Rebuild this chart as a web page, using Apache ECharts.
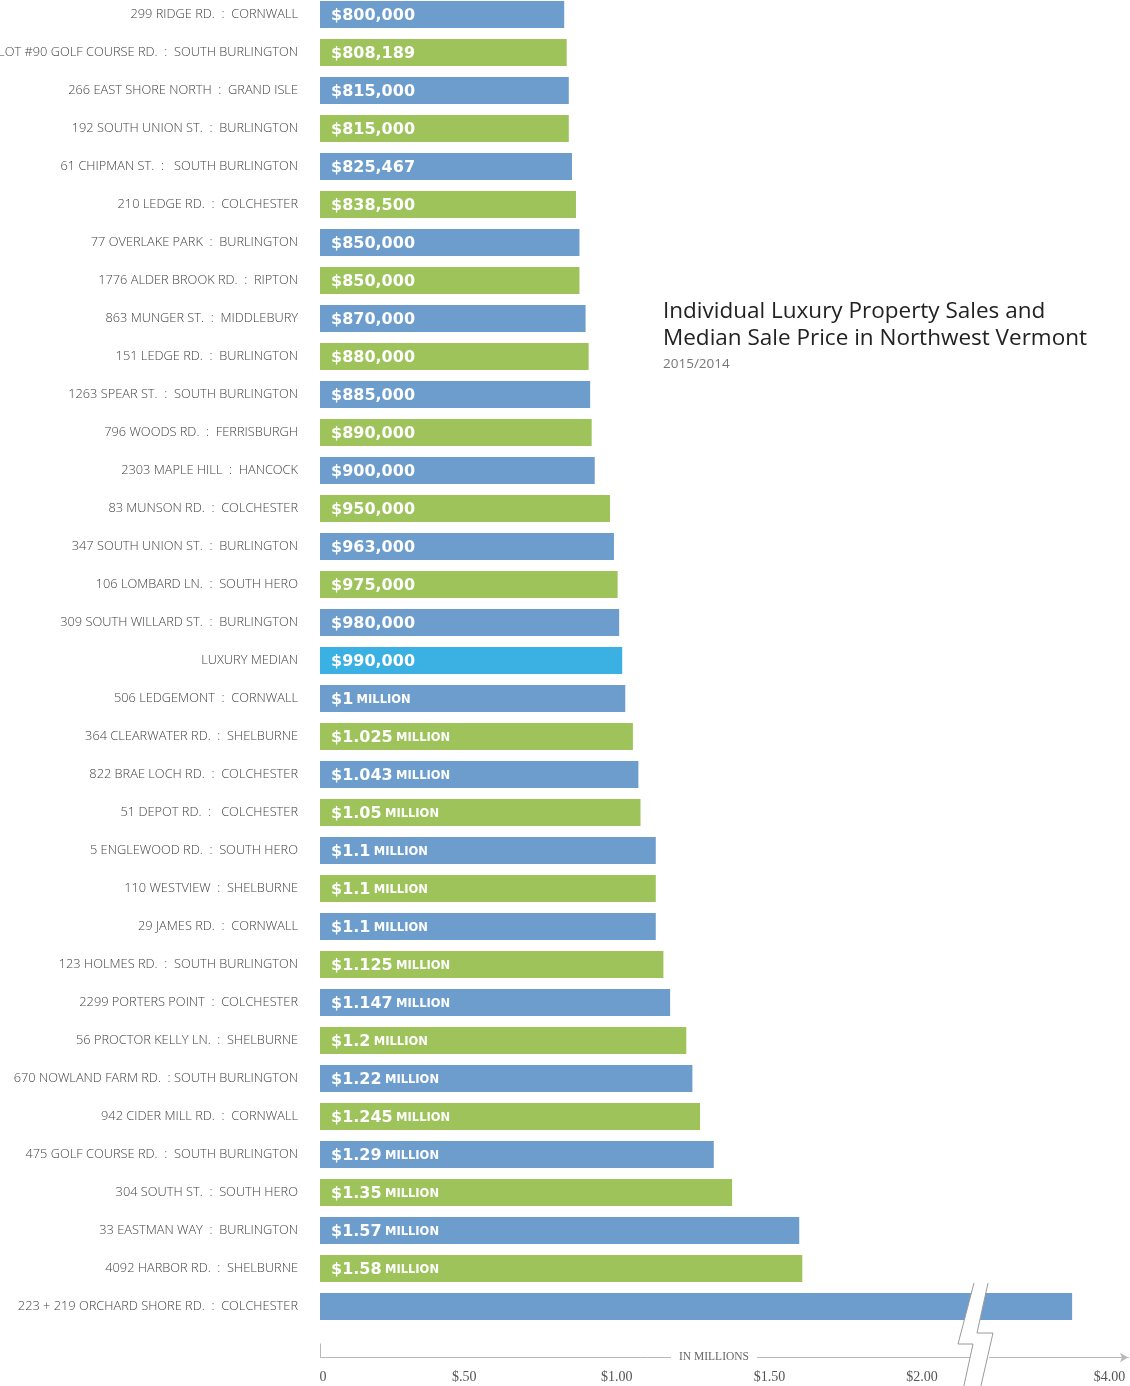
<!DOCTYPE html>
<html><head><meta charset="utf-8">
<script src="https://cdn.jsdelivr.net/npm/echarts@6/dist/echarts.min.js"></script>
<style>html,body{margin:0;padding:0;background:#fff}#c{width:1130px;height:1386px}</style>
</head><body><div id="c"></div>
<script>
const properties = [
  '299 RIDGE RD.  :  CORNWALL',
  'LOT #90 GOLF COURSE RD.  :  SOUTH BURLINGTON',
  '266 EAST SHORE NORTH  :  GRAND ISLE',
  '192 SOUTH UNION ST.  :  BURLINGTON',
  '61 CHIPMAN ST.  :   SOUTH BURLINGTON',
  '210 LEDGE RD.  :  COLCHESTER',
  '77 OVERLAKE PARK  :  BURLINGTON',
  '1776 ALDER BROOK RD.  :  RIPTON',
  '863 MUNGER ST.  :  MIDDLEBURY',
  '151 LEDGE RD.  :  BURLINGTON',
  '1263 SPEAR ST.  :  SOUTH BURLINGTON',
  '796 WOODS RD.  :  FERRISBURGH',
  '2303 MAPLE HILL  :  HANCOCK',
  '83 MUNSON RD.  :  COLCHESTER',
  '347 SOUTH UNION ST.  :  BURLINGTON',
  '106 LOMBARD LN.  :  SOUTH HERO',
  '309 SOUTH WILLARD ST.  :  BURLINGTON',
  'LUXURY MEDIAN',
  '506 LEDGEMONT  :  CORNWALL',
  '364 CLEARWATER RD.  :  SHELBURNE',
  '822 BRAE LOCH RD.  :  COLCHESTER',
  '51 DEPOT RD.  :   COLCHESTER',
  '5 ENGLEWOOD RD.  :  SOUTH HERO',
  '110 WESTVIEW  :  SHELBURNE',
  '29 JAMES RD.  :  CORNWALL',
  '123 HOLMES RD.  :  SOUTH BURLINGTON',
  '2299 PORTERS POINT  :  COLCHESTER',
  '56 PROCTOR KELLY LN.  :  SHELBURNE',
  '670 NOWLAND FARM RD.  : SOUTH BURLINGTON',
  '942 CIDER MILL RD.  :  CORNWALL',
  '475 GOLF COURSE RD.  :  SOUTH BURLINGTON',
  '304 SOUTH ST.  :  SOUTH HERO',
  '33 EASTMAN WAY  :  BURLINGTON',
  '4092 HARBOR RD.  :  SHELBURNE',
  '223 + 219 ORCHARD SHORE RD.  :  COLCHESTER'
];
// sale prices in millions of dollars
const prices = [
  0.8, 0.808189, 0.815, 0.815, 0.825467, 0.8385, 0.85, 0.85, 0.87, 0.88,
  0.885, 0.89, 0.9, 0.95, 0.963, 0.975, 0.98, 0.99, 1.0, 1.025,
  1.043, 1.05, 1.1, 1.1, 1.1, 1.125, 1.147, 1.2, 1.22, 1.245,
  1.29, 1.35, 1.57, 1.58, 3.85
];
const medianLabel = 'LUXURY MEDIAN';
const tickValues = [0, 0.5, 1, 1.5, 2, 4];
const tickLabels = ['0', '$.50', '$1.00', '$1.50', '$2.00', '$4.00'];
const axisBreak = { start: 2.144, end: 3.58 };
const unlabelledAbove = 2; // bars beyond the axis break carry no value label

const BLUE = '#6c9dcc', GREEN = '#9dc35a', MEDIAN = '#3bb0e3';

function priceText(v) {
  if (v >= unlabelledAbove) return '';
  if (v < 1) return '{a|$' + Math.round(v * 1e6).toLocaleString('en-US') + '}';
  return '{a|$' + (+v.toFixed(3)) + '} {b|MILLION}';
}

const chart = echarts.init(document.getElementById('c'), null, { renderer: 'canvas' });
chart.setOption({
  backgroundColor: '#fff',
  animation: false,
  title: {
    text: 'Individual Luxury Property Sales and\nMedian Sale Price in Northwest Vermont',
    subtext: '2015/2014',
    left: 658, top: 293,
    itemGap: 5,
    textStyle: { fontFamily: 'Open Sans', fontSize: 22.5, fontWeight: 'normal', color: '#222', lineHeight: 27 },
    subtextStyle: { fontFamily: 'Open Sans', fontSize: 13.5, color: '#777' }
  },
  grid: { left: 320, top: -4.5, width: 808, height: 1330, containLabel: false, outerBoundsMode: 'none' },
  xAxis: {
    type: 'value',
    min: 0, max: 4.033,
    breaks: [{ start: axisBreak.start, end: axisBreak.end, gap: 0.05 }],
    breakArea: { show: false },
    offset: 32,
    splitLine: { show: false },
    axisLine: { show: true, lineStyle: { color: '#b8b8b8', width: 1 }, symbol: ['none', 'arrow'], symbolSize: [7, 8] },
    axisTick: { show: true, inside: true, length: 14, customValues: [0], lineStyle: { color: '#b8b8b8' } },
    axisLabel: {
      customValues: tickValues,
      margin: 13,
      formatter: function (v) {
        const i = tickValues.findIndex(t => Math.abs(t - v) < 1e-6);
        if (i < 0) return '';
        return i === 0 ? '{z|' + tickLabels[i] + '}' : '{t|' + tickLabels[i] + '}';
      },
      rich: {
        z: { fontFamily: 'Liberation Serif', fontSize: 14, color: '#555', padding: [0, 0, 0, 6] },
        t: { fontFamily: 'Liberation Serif', fontSize: 14, color: '#555', padding: [0, 17, 0, 0] }
      }
    }
  },
  yAxis: {
    type: 'category',
    inverse: true,
    data: properties,
    axisLine: { show: false },
    axisTick: { show: false },
    axisLabel: { fontFamily: 'Open Sans', fontWeight: 300, fontSize: 12.8, color: '#444', margin: 22 }
  },
  series: [{
    type: 'bar',
    data: prices,
    barWidth: 27,
    itemStyle: {
      color: function (p) {
        if (properties[p.dataIndex] === medianLabel) return MEDIAN;
        return p.dataIndex % 2 === 0 ? BLUE : GREEN;
      }
    },
    label: {
      show: true,
      position: 'insideLeft',
      distance: 11,
      formatter: function (p) { return priceText(p.value); },
      rich: {
        a: { fontFamily: 'DejaVu Sans', fontWeight: 'bold', fontSize: 16, color: '#fff', padding: [2, 0, 0, 0] },
        b: { fontFamily: 'DejaVu Sans', fontWeight: 'bold', fontSize: 11.5, color: '#fff', padding: [3, 0, 0, 0] }
      }
    }
  }],
  graphic: [
    { type: 'polygon', z: 100, shape: { points: [[974,1283],[958,1344],[973,1344],[963,1390],[980,1390],[993,1333],[977,1333],[988,1283]] }, style: { fill: '#fff' } },
    { type: 'polyline', z: 101, shape: { points: [[974,1283],[958,1344],[973,1344],[963,1390]] }, style: { stroke: '#9a9a9a', lineWidth: 1, fill: null } },
    { type: 'polyline', z: 101, shape: { points: [[988,1283],[977,1333],[993,1333],[980,1390]] }, style: { stroke: '#9a9a9a', lineWidth: 1, fill: null } },
    { type: 'text', z: 102, style: { text: 'IN MILLIONS', x: 714, y: 1357, align: 'center', verticalAlign: 'middle', font: '11.5px "Liberation Serif"', fill: '#666', backgroundColor: '#fff', padding: [2, 8] } }
  ]
});
</script></body></html>
